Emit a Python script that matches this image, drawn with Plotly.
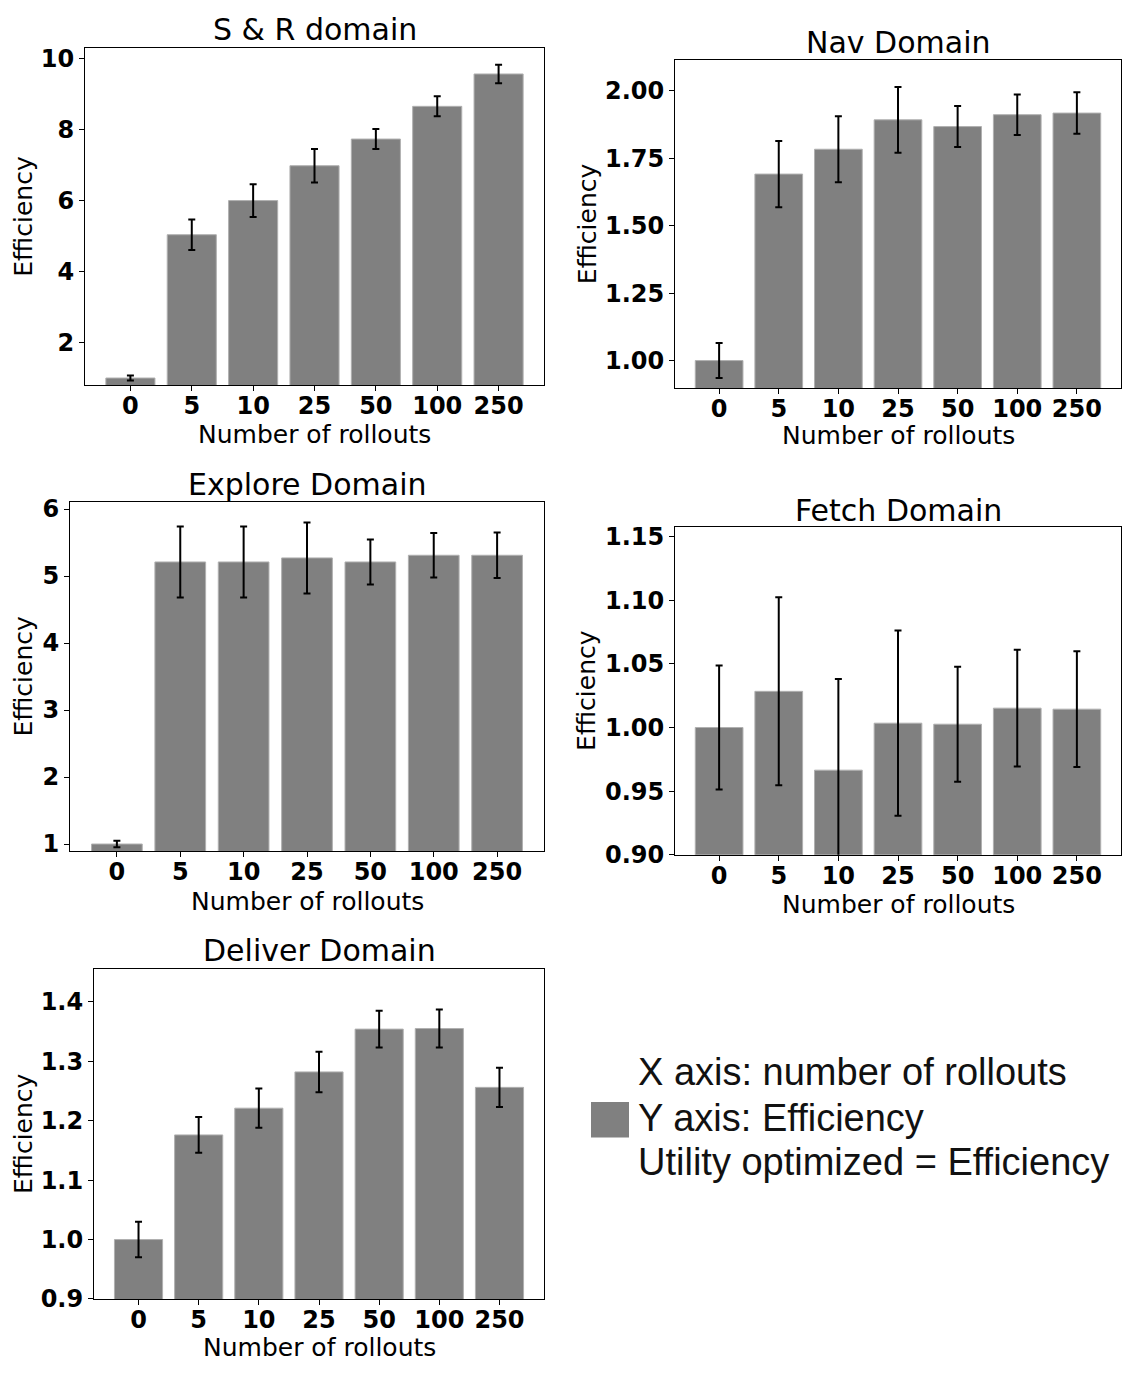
import plotly.graph_objects as go

# Rollout counts shared by every panel
rollouts = ["0", "5", "10", "25", "50", "100", "250"]

# Mean efficiency and error (half-width) per domain
sr_eff = [1.01, 5.04, 6.00, 6.98, 7.73, 8.65, 9.56]
sr_err = [0.07, 0.43, 0.46, 0.47, 0.28, 0.28, 0.26]

nav_eff = [1.000, 1.691, 1.783, 1.892, 1.867, 1.911, 1.917]
nav_err = [0.065, 0.123, 0.122, 0.122, 0.076, 0.075, 0.077]

explore_eff = [1.00, 5.21, 5.21, 5.27, 5.21, 5.31, 5.31]
explore_err = [0.05, 0.53, 0.53, 0.53, 0.335, 0.333, 0.34]

fetch_eff = [1.000, 1.0284, 0.9665, 1.0034, 1.0026, 1.0152, 1.0144]
fetch_err = [0.0486, 0.0738, 0.0716, 0.0727, 0.0451, 0.0458, 0.0455]

deliver_eff = [1.000, 1.176, 1.221, 1.282, 1.354, 1.355, 1.256]
deliver_err = [0.030, 0.030, 0.033, 0.034, 0.031, 0.032, 0.033]

W, H = 1131, 1376


def px_x(v):
    return v / W


def px_y(v):
    return 1 - v / H


# name, values, errors, frame box in px (left, right, top, bottom), y range, ticks, tick format,
# title centre y, x-label centre y, y-label centre x
panels = [
    ("S & R domain", sr_eff, sr_err, (85, 544, 42, 384), [0.81, 10.28],
     [2, 4, 6, 8, 10], "d", 23, 434, 24),
    ("Nav Domain", nav_eff, nav_err, (675, 1121, 54, 387), [0.898, 2.113],
     [1.00, 1.25, 1.50, 1.75, 2.00], ".2f", 36, 435, 587),
    ("Explore Domain", explore_eff, explore_err, (70, 544, 503, 857), [0.897, 6.10],
     [1, 2, 3, 4, 5, 6], "d", 485, 908, 24),
    ("Fetch Domain", fetch_eff, fetch_err, (675, 1121, 528, 861), [0.9, 1.1575],
     [0.90, 0.95, 1.00, 1.05, 1.10, 1.15], ".2f", 511, 911, 587),
    ("Deliver Domain", deliver_eff, deliver_err, (94, 544, 977, 1312), [0.9, 1.455],
     [0.9, 1.0, 1.1, 1.2, 1.3, 1.4], ".1f", 958, 1361, 23),
]

fig = go.Figure()
layout = {}
annotations = []

BAR_GREY = "#808080"
TEXT_FONT = "DejaVu Sans"

for i, (title, vals, errs, box, yr, ticks, fmt, ty, xly, ylx) in enumerate(panels):
    n = i + 1
    xa = "x" if n == 1 else f"x{n}"
    ya = "y" if n == 1 else f"y{n}"
    left, right, top, bottom = box

    fig.add_trace(go.Bar(
        x=rollouts, y=vals, xaxis=xa, yaxis=ya,
        width=0.8,
        marker=dict(color=BAR_GREY, line=dict(color="#b0b0b0", width=1)),
        error_y=dict(type="data", array=errs, color="black", thickness=2, width=3.5),
        showlegend=False,
    ))

    axis_common = dict(
        showline=True, linecolor="black", linewidth=1, mirror=True,
        ticks="outside", ticklen=5, tickwidth=1, tickcolor="black",
        showgrid=False, zeroline=False,
        tickfont=dict(family=TEXT_FONT, size=24, color="black", weight="bold"),
    )
    layout["xaxis" if n == 1 else f"xaxis{n}"] = dict(
        axis_common,
        domain=[px_x(left), px_x(right)],
        anchor=ya,
        type="category",
        categoryorder="array", categoryarray=rollouts,
        range=[-0.74, 6.74],
        ticklabelstandoff=-6,
    )
    layout["yaxis" if n == 1 else f"yaxis{n}"] = dict(
        axis_common,
        domain=[px_y(bottom), px_y(top)],
        anchor=xa,
        range=yr,
        tickmode="array", tickvals=ticks,
        tickformat=fmt,
    )

    cx = (left + right) / 2
    annotations.append(dict(
        text=title, x=px_x(cx), y=px_y(ty), xref="paper", yref="paper",
        xanchor="center", yanchor="middle", showarrow=False,
        font=dict(family=TEXT_FONT, size=30, color="black"),
    ))
    annotations.append(dict(
        text="Number of rollouts", x=px_x(cx), y=px_y(xly), xref="paper", yref="paper",
        xanchor="center", yanchor="middle", showarrow=False,
        font=dict(family=TEXT_FONT, size=25, color="black"),
    ))
    annotations.append(dict(
        text="Efficiency", x=px_x(ylx), y=px_y((top + bottom) / 2),
        xref="paper", yref="paper", textangle=-90,
        xanchor="center", yanchor="middle", showarrow=False,
        font=dict(family=TEXT_FONT, size=25, color="black"),
    ))

# Key in the empty bottom-right cell
key_lines = [
    ("X axis: number of rollouts", 1082),
    ("Y axis: Efficiency", 1128),
    ("Utility optimized = Efficiency", 1173),
]
for txt, yy in key_lines:
    annotations.append(dict(
        text=txt, x=px_x(636), y=px_y(yy), xref="paper", yref="paper",
        xanchor="left", yanchor="middle", showarrow=False,
        font=dict(family="Liberation Sans", size=38, color="#111111"),
    ))

shapes = [dict(
    type="rect", xref="paper", yref="paper",
    x0=px_x(591), x1=px_x(629), y0=px_y(1148), y1=px_y(1112),
    fillcolor=BAR_GREY, line=dict(width=0),
)]

fig.update_layout(
    width=W, height=H,
    margin=dict(l=0, r=0, t=0, b=0),
    paper_bgcolor="white", plot_bgcolor="white",
    annotations=annotations, shapes=shapes,
    bargap=0.2,
    **layout,
)

fig.write_html("out.html")
